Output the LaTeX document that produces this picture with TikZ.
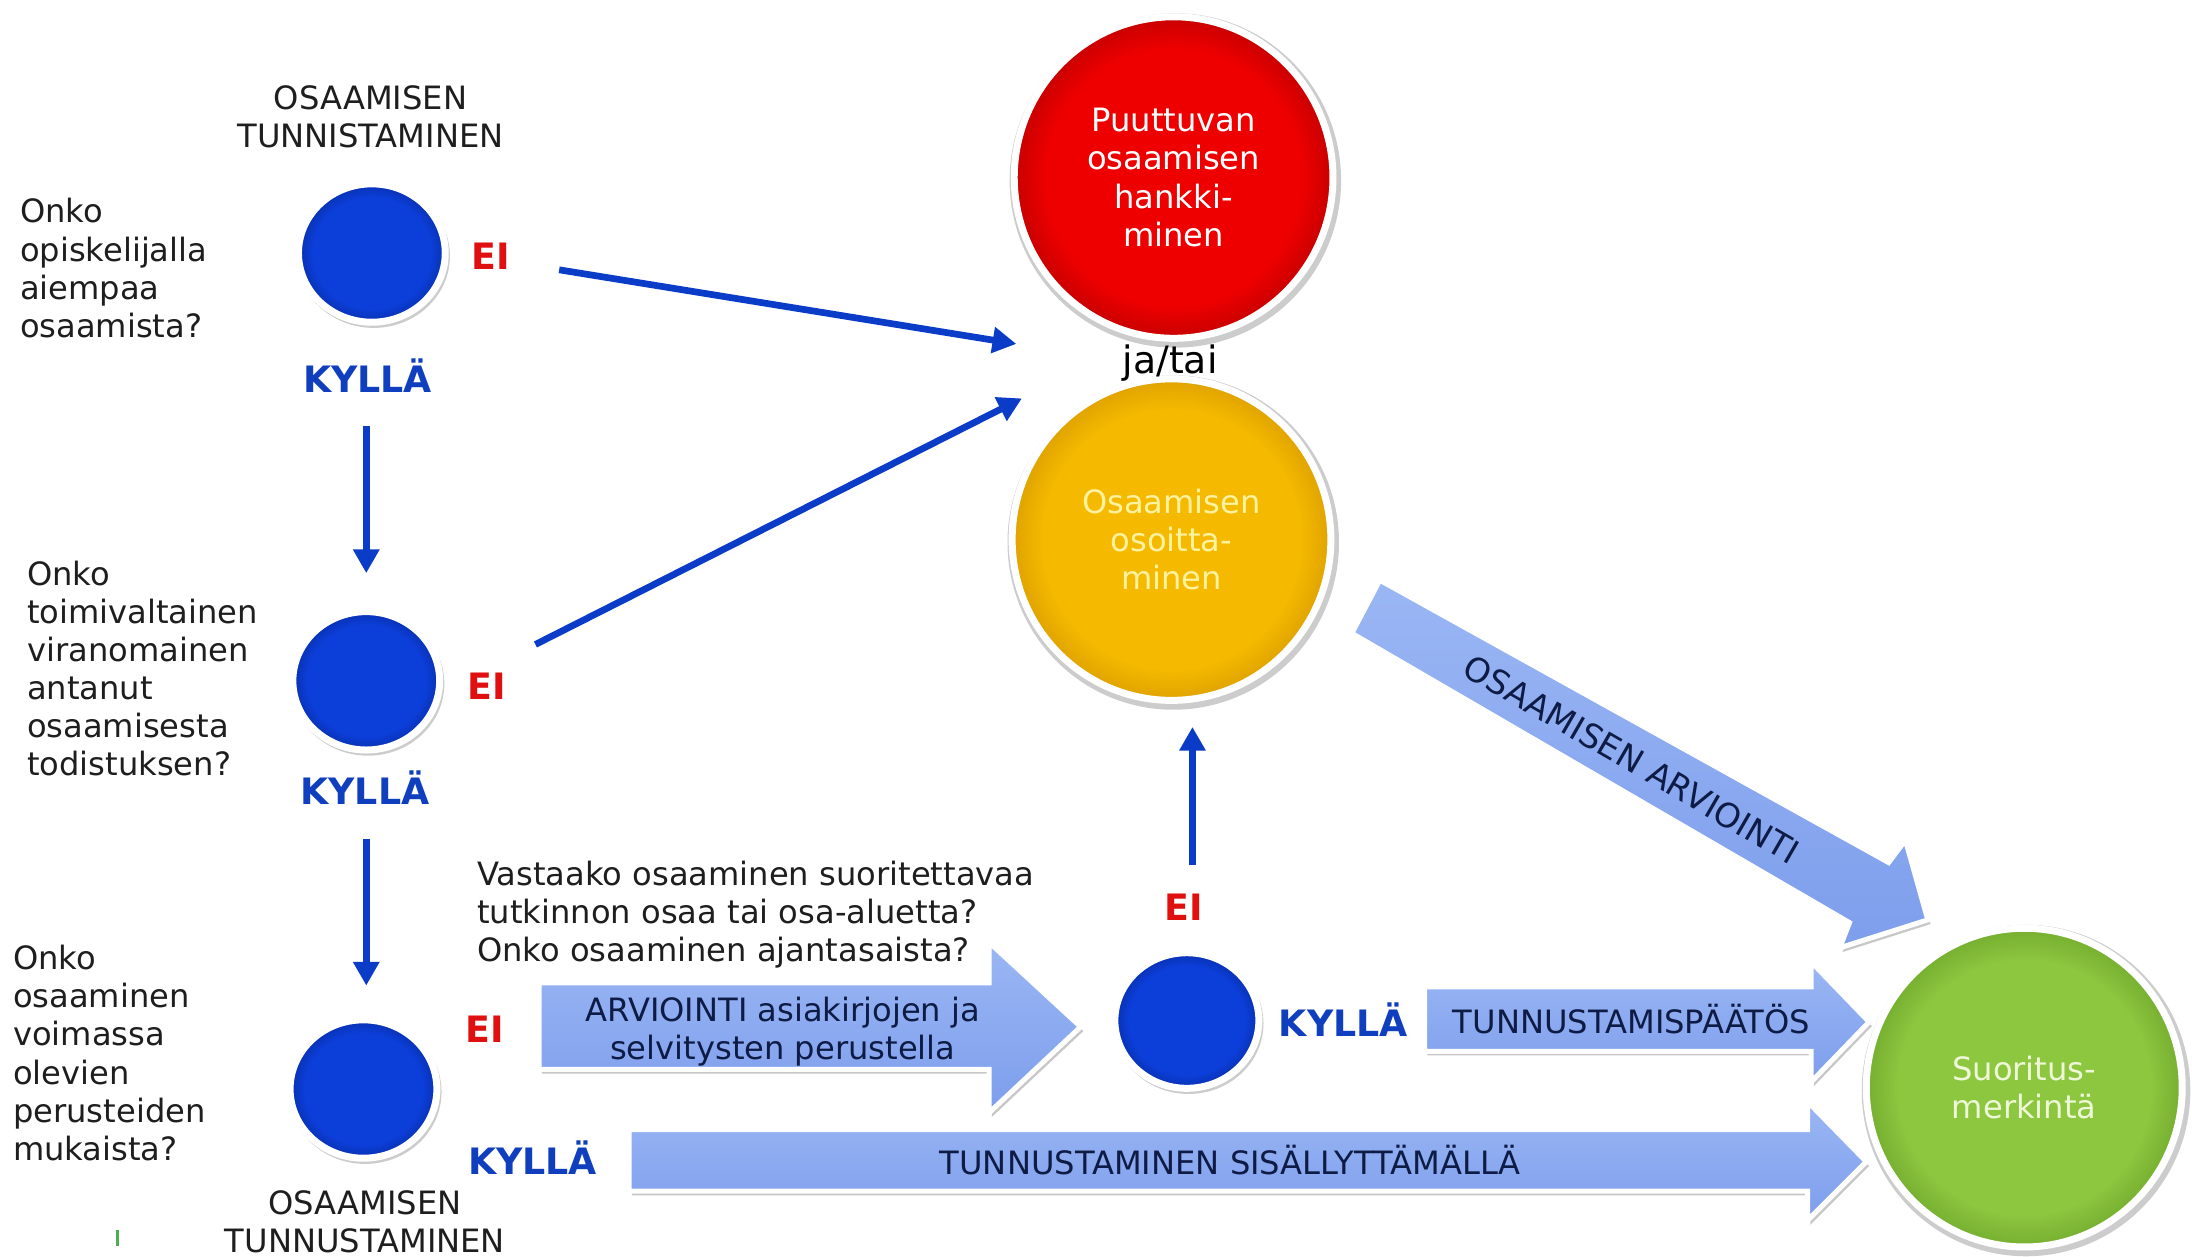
\documentclass[tikz,border=0pt]{standalone}
\usepackage{fontspec}
\setmainfont{DejaVu Sans}
\usetikzlibrary{shapes.geometric, arrows.meta, shadows}

\definecolor{ballA}{HTML}{0E40DC}
\definecolor{ballB}{HTML}{052896}
\pgfdeclareradialshading[ballA,ballB]{edgeball}{\pgfpoint{0bp}{0bp}}{color(0bp)=(ballA); color(20bp)=(ballA); color(25bp)=(ballB); color(50bp)=(ballB)}

\definecolor{cblue}{HTML}{0C3FDA}
\definecolor{cbluedk}{HTML}{0830B0}
\definecolor{cred}{HTML}{EE0000}
\definecolor{creddk}{HTML}{C80000}
\definecolor{cyel}{HTML}{F5BA00}
\definecolor{cyeldk}{HTML}{E0A200}
\definecolor{cgrn}{HTML}{8DC63F}
\definecolor{cgrndk}{HTML}{76AE30}
\definecolor{lineblue}{HTML}{0B3CC8}
\definecolor{kyblue}{HTML}{0F3FBF}
\definecolor{eired}{HTML}{E01010}
\definecolor{arrtop}{HTML}{9AB6F4}
\definecolor{arrbot}{HTML}{7E9EEC}
\definecolor{arrtxt}{HTML}{0E1B45}
\definecolor{txt}{HTML}{1E1E1E}
\definecolor{yeltxt}{HTML}{FFF3A0}
\definecolor{grntxt}{HTML}{EEF7D8}
\definecolor{tick}{HTML}{4CAF50}

\tikzset{
  ball/.style 2 args={ellipse, inner sep=0pt, draw=white, line width=2.5pt,
    /utils/exec={\colorlet{ballA}{#1}\colorlet{ballB}{#2}}, shade, shading=edgeball,
    drop shadow={shadow scale=1.04, shadow xshift=0.6pt, shadow yshift=-1pt, opacity=0.2, fill=black}},
  body/.style={font=\fontsize{11.5}{13.65}\selectfont, text=txt, inner sep=0pt, align=left, anchor=north west},
  ctext/.style={font=\fontsize{11.5}{13.65}\selectfont, align=center},
  eilab/.style={font=\fontsize{13}{15}\selectfont\bfseries, text=eired, inner sep=0pt},
  kylab/.style={font=\fontsize{13}{15}\selectfont\bfseries, text=kyblue, inner sep=0pt, anchor=base},
  conn/.style={draw=lineblue, line width=2.4pt, -{Triangle[width=9pt,length=8.5pt]}},
  bigarr/.style={draw=white, line width=1.8pt, line join=miter, top color=arrtop, bottom color=arrbot,
    drop shadow={shadow xshift=1pt, shadow yshift=-1.5pt, opacity=0.22, fill=black}},
  arrtext/.style={font=\fontsize{11.5}{13.65}\selectfont, text=arrtxt, inner sep=0pt}
}

\begin{document}
\begin{tikzpicture}[x=0.5pt, y=-0.5pt]
\useasboundingbox (0,0) rectangle (1568,899);
\fill[white] (0,0) rectangle (1568,899);

% big arrows
\path[bigarr] (987,415) -- (1351,617) -- (1363,601) -- (1379,658) -- (1316,678) -- (1323,660) -- (967,453) -- cycle;
\path[bigarr] (385.6,703) -- (707.5,703) -- (707.5,674) -- (773,734.5) -- (707.5,796) -- (707.5,765) -- (385.6,765) -- cycle;
\path[bigarr] (1019,706) -- (1295.5,706) -- (1295.5,688) -- (1337,731) -- (1295.5,774) -- (1295.5,752) -- (1019,752) -- cycle;
\path[bigarr] (450,808) -- (1293,808) -- (1293,788) -- (1335,831) -- (1293,873) -- (1293,852) -- (450,852) -- cycle;

\node[arrtext, font=\fontsize{12}{14}\selectfont, rotate=-30] (arvtext) at (1167,543) {OSAAMISEN ARVIOINTI};
\node[arrtext, align=center, anchor=north] (asiak) at (560,711) {\strut ARVIOINTI asiakirjojen ja\\selvitysten perustella};
\node[arrtext, anchor=base] (paatos) at (1167,739.4) {TUNNUSTAMISPÄÄTÖS};
\node[arrtext, anchor=base] (sisall) at (880,840.4) {TUNNUSTAMINEN SISÄLLYTTÄMÄLLÄ};

% big circles
\node[ball={cred}{creddk}, minimum width=114pt, minimum height=115pt, text=white, ctext] (red) at (839.5,127) {Puuttuvan\\osaamisen\\hankki-\\minen};
\node[ball={cyel}{cyeldk}, minimum width=114pt, minimum height=115pt, text=yeltxt, ctext] (yel) at (838,386) {Osaamisen\\osoitta-\\minen};
\node[ball={cgrn}{cgrndk}, minimum width=113pt, minimum height=114pt, text=grntxt, ctext] (grn) at (1448,778) {Suoritus-\\merkintä};
\node[font=\fontsize{13.5}{15}\selectfont, inner sep=0pt] (jatai) at (837,260) {ja/tai};

% blue circles
\node[ball={cblue}{cbluedk}, minimum width=52.5pt, minimum height=49.5pt] (c1) at (266,181) {};
\node[ball={cblue}{cbluedk}, minimum width=52.5pt, minimum height=49.5pt] (c2) at (262,487) {};
\node[ball={cblue}{cbluedk}, minimum width=52.5pt, minimum height=49.5pt] (c3) at (260,779) {};
\node[ball={cblue}{cbluedk}, minimum width=51.5pt, minimum height=48.5pt] (c4) at (849,730) {};

% headings
\node[body, align=center, anchor=north] (tunnis) at (265,59) {\strut OSAAMISEN\\TUNNISTAMINEN};
\node[body, align=center, anchor=north] (tunnus) at (261,849) {\strut OSAAMISEN\\TUNNUSTAMINEN};

% questions
\node[body] (q1) at (14,140) {\strut Onko\\opiskelijalla\\aiempaa\\osaamista?};
\node[body] (q2) at (19,399) {\strut Onko\\toimivaltainen\\viranomainen\\antanut\\osaamisesta\\todistuksen?};
\node[body] (q3) at (9,674) {\strut Onko\\osaaminen\\voimassa\\olevien\\perusteiden\\mukaista?};
\node[body] (q4) at (341,614) {\strut Vastaako osaaminen suoritettavaa\\tutkinnon osaa tai osa-aluetta?\\Onko osaaminen ajantasaista?};

% labels
\node[eilab] (ei1) at (351,183) {EI};
\node[eilab] (ei2) at (348,491) {EI};
\node[eilab] (ei3) at (347,736) {EI};
\node[eilab] (ei4) at (847,649) {EI};
\node[kylab] (ky1) at (263,280.5) {KYLLÄ};
\node[kylab] (ky2) at (261,575.5) {KYLLÄ};
\node[kylab] (ky3) at (381,840.5) {KYLLÄ};
\node[kylab] (ky4) at (961,741.5) {KYLLÄ};

% connectors
\coordinate (a1s) at (400,193); \coordinate (a1e) at (727,246);
\coordinate (a2s) at (383,461); \coordinate (a2e) at (731,285);
\coordinate (a3s) at (262,305); \coordinate (a3e) at (262,410);
\coordinate (a4s) at (262,600); \coordinate (a4e) at (262,705);
\coordinate (a5s) at (853,619); \coordinate (a5e) at (853,520);
\draw[conn] (a1s) -- (a1e);
\draw[conn] (a2s) -- (a2e);
\draw[conn] (a3s) -- (a3e);
\draw[conn] (a4s) -- (a4e);
\draw[conn] (a5s) -- (a5e);

% small green mark
\coordinate (tk1) at (84,880); \coordinate (tk2) at (84,891);
\draw[tick, line width=0.9pt] (tk1) -- (tk2);
\end{tikzpicture}
\end{document}
